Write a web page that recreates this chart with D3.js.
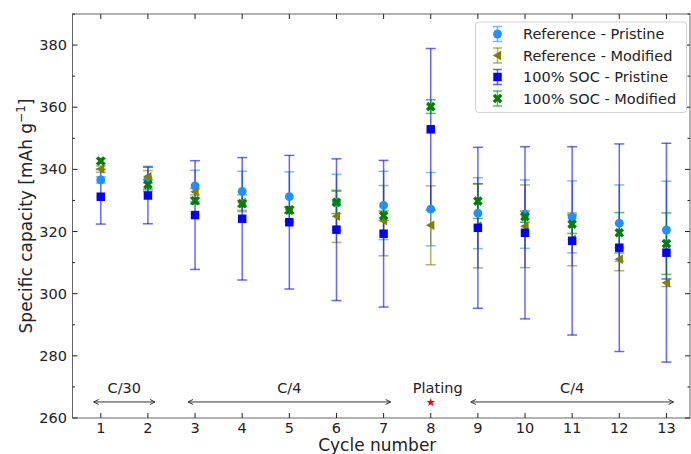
<!DOCTYPE html>
<html>
<head>
<meta charset="utf-8">
<script src="https://cdn.jsdelivr.net/npm/d3@7"></script>
<style>
  body { margin: 0; background: white; }
  text { font-family: "DejaVu Sans", sans-serif; fill: #222; }
</style>
</head>
<body>
<div id="chart"></div>
<script>

var cycles = [1, 2, 3, 4, 5, 6, 7, 8, 9, 10, 11, 12, 13];

// values (mAh/g), +- error
var refPristine       = [336.6, 337.0, 334.7, 332.9, 331.2, 329.4, 328.4, 327.2, 325.9, 325.6, 324.7, 322.7, 320.5];
var refPristineErr    = [1.0, 4.0, 5.0, 6.5, 8.0, 9.0, 11.0, 11.8, 11.4, 11.0, 11.6, 12.3, 15.7];
var refModified       = [340.1, 337.6, 332.8, 329.3, 327.0, 324.9, 323.5, 322.0, 321.8, 321.7, 317.5, 311.1, 303.5];
var refModifiedErr    = [1.0, 2.0, 1.0, 2.5, 1.0, 8.4, 11.3, 12.7, 13.5, 13.3, 8.5, 3.7, 1.2];
var socPristine       = [331.2, 331.6, 325.3, 324.1, 323.0, 320.6, 319.3, 352.9, 321.2, 319.6, 317.0, 314.8, 313.2];
var socPristineErr    = [8.8, 9.1, 17.5, 19.7, 21.5, 22.8, 23.6, 26.0, 25.9, 27.7, 30.3, 33.4, 35.2];
var socModified       = [342.7, 335.1, 329.9, 329.0, 326.9, 329.4, 325.1, 360.2, 329.8, 324.8, 322.4, 319.6, 316.1];
var socModifiedErr    = [0.8, 1.5, 1.0, 1.0, 1.0, 3.6, 1.5, 2.2, 5.6, 1.8, 3.0, 6.5, 9.9];

var seriesNames  = ["Reference - Pristine", "Reference - Modified", "100% SOC - Pristine", "100% SOC - Modified"];
var seriesColors = ["#1e90ff", "#808000", "#0000ff", "#008000"];
var seriesShapes = ["circle", "triangle", "square", "x"];

var yTicks = [260, 280, 300, 320, 340, 360, 380];
var yMinorTicks = [270, 290, 310, 330, 350, 370, 390];

// rate annotations along the bottom
var phaseLabels = ["C/30", "C/4", "C/4"];
var phaseStart  = [0.85, 2.85, 8.85];
var phaseEnd    = [2.15, 7.15, 13.15];
var platingCycle = 8;
var platingMark  = 265;

var width = 691,
    height = 454,
    mLeft = 72.5,
    mRight = 690,
    mTop = 14,
    mBottom = 418;

var svg = d3.select("#chart").append("svg")
    .attr("width", width)
    .attr("height", height);

var x = d3.scaleLinear()
    .domain([0.4, 13.5])
    .range([mLeft, mRight]);

var y = d3.scaleLinear()
    .domain([260, 390])
    .range([mBottom, mTop]);

var series = [
    {values: refPristine, err: refPristineErr},
    {values: refModified, err: refModifiedErr},
    {values: socPristine, err: socPristineErr},
    {values: socModified, err: socModifiedErr}
];

function markerPath(shape) {
    if (shape == "circle") return d3.symbol().type(d3.symbolCircle).size(62)();
    if (shape == "square") return d3.symbol().type(d3.symbolSquare).size(72)();
    if (shape == "x") return d3.symbol().type(d3.symbolCross).size(58)();
    // triangle pointing left
    return "M-4.8,0L3.6,-4.8L3.6,4.8Z";
}

function drawMarker(g, shape, color, cx, cy) {
    g.append("path")
        .attr("d", markerPath(shape))
        .attr("fill", color)
        .attr("transform", "translate(" + cx + "," + cy + ")" + (shape == "x" ? " rotate(45)" : ""));
}

// error bars first (they sit under all markers)
var bars = svg.append("g");
series.forEach(function(s, k) {
    cycles.forEach(function(c, i) {
        var cx = x(c),
            y0 = y(s.values[i] - s.err[i]),
            y1 = y(s.values[i] + s.err[i]);
        var g = bars.append("g")
            .attr("stroke", seriesColors[k])
            .attr("stroke-opacity", 0.6)
            .attr("stroke-width", 1.5);
        g.append("line").attr("x1", cx).attr("x2", cx).attr("y1", y0).attr("y2", y1);
        g.append("line").attr("x1", cx - 5).attr("x2", cx + 5).attr("y1", y0).attr("y2", y0);
        g.append("line").attr("x1", cx - 5).attr("x2", cx + 5).attr("y1", y1).attr("y2", y1);
    });
});

var marks = svg.append("g");
series.forEach(function(s, k) {
    cycles.forEach(function(c, i) {
        drawMarker(marks, seriesShapes[k], seriesColors[k], x(c), y(s.values[i]));
    });
});

// frame + inward ticks
svg.append("rect")
    .attr("x", mLeft).attr("y", mTop)
    .attr("width", mRight - mLeft).attr("height", mBottom - mTop)
    .attr("fill", "none")
    .attr("stroke", "#666")
    .attr("stroke-width", 1);

var ticks = svg.append("g").attr("stroke", "#222").attr("stroke-width", 1);
cycles.forEach(function(c) {
    ticks.append("line").attr("x1", x(c)).attr("x2", x(c)).attr("y1", mBottom).attr("y2", mBottom - 5);
    ticks.append("line").attr("x1", x(c)).attr("x2", x(c)).attr("y1", mTop).attr("y2", mTop + 5);
});
yTicks.forEach(function(t) {
    ticks.append("line").attr("x1", mLeft).attr("x2", mLeft + 5).attr("y1", y(t)).attr("y2", y(t));
    ticks.append("line").attr("x1", mRight).attr("x2", mRight - 5).attr("y1", y(t)).attr("y2", y(t));
});
yMinorTicks.forEach(function(t) {
    ticks.append("line").attr("x1", mLeft).attr("x2", mLeft + 2.5).attr("y1", y(t)).attr("y2", y(t));
    ticks.append("line").attr("x1", mRight).attr("x2", mRight - 2.5).attr("y1", y(t)).attr("y2", y(t));
});

svg.selectAll(".xlab").data(cycles)
    .enter().append("text")
    .attr("x", function(d) { return x(d); })
    .attr("y", 433)
    .attr("text-anchor", "middle")
    .attr("font-size", "14.5px")
    .text(function(d) { return d; });

svg.selectAll(".ylab").data(yTicks)
    .enter().append("text")
    .attr("x", 67)
    .attr("y", function(d) { return y(d) + 5; })
    .attr("text-anchor", "end")
    .attr("font-size", "14.5px")
    .text(function(d) { return d; });

svg.append("text")
    .attr("x", (mLeft + mRight) / 2 - 4)
    .attr("y", 451)
    .attr("text-anchor", "middle")
    .attr("font-size", "17px")
    .text("Cycle number");

var ylabel = svg.append("text")
    .attr("transform", "translate(32," + ((mTop + mBottom) / 2) + ") rotate(-90)")
    .attr("text-anchor", "middle")
    .attr("font-size", "17px");
ylabel.append("tspan").text("Specific capacity [mAh g");
ylabel.append("tspan").attr("font-size", "12px").attr("dy", -7).text("\u22121");
ylabel.append("tspan").attr("dy", 7).text("]");

// rate arrows
var ann = svg.append("g");
phaseLabels.forEach(function(lab, i) {
    var x0 = x(phaseStart[i]), x1 = x(phaseEnd[i]), ya = y(platingMark) - 0.5;
    ann.append("line").attr("x1", x0).attr("x2", x1).attr("y1", ya).attr("y2", ya)
        .attr("stroke", "#333").attr("stroke-width", 1);
    ann.append("path").attr("d", "M" + (x0 + 5) + "," + (ya - 2.5) + "L" + x0 + "," + ya + "L" + (x0 + 5) + "," + (ya + 2.5))
        .attr("fill", "none").attr("stroke", "#333").attr("stroke-width", 1);
    ann.append("path").attr("d", "M" + (x1 - 5) + "," + (ya - 2.5) + "L" + x1 + "," + ya + "L" + (x1 - 5) + "," + (ya + 2.5))
        .attr("fill", "none").attr("stroke", "#333").attr("stroke-width", 1);
    ann.append("text")
        .attr("x", (x0 + x1) / 2)
        .attr("y", 393)
        .attr("text-anchor", "middle")
        .attr("font-size", "14.5px")
        .text(lab);
});
ann.append("text")
    .attr("x", x(platingCycle) + 7)
    .attr("y", 393)
    .attr("text-anchor", "middle")
    .attr("font-size", "14.5px")
    .text("Plating");
ann.append("path")
    .attr("d", d3.symbol().type(d3.symbolStar).size(22)())
    .attr("fill", "red")
    .attr("transform", "translate(" + x(platingCycle) + "," + y(platingMark) + ")");

// legend
var lg = svg.append("g");
lg.append("rect")
    .attr("x", 475.5).attr("y", 22)
    .attr("width", 211).attr("height", 90.5)
    .attr("rx", 3)
    .attr("fill", "white").attr("fill-opacity", 0.85)
    .attr("stroke", "#d0d0d0");
seriesNames.forEach(function(name, k) {
    var ly = 34 + k * 21.5, lx = 497.5;
    var g = lg.append("g")
        .attr("stroke", seriesColors[k])
        .attr("stroke-opacity", 0.6)
        .attr("stroke-width", 1.5);
    g.append("line").attr("x1", lx).attr("x2", lx).attr("y1", ly - 7.5).attr("y2", ly + 7.5);
    g.append("line").attr("x1", lx - 4.5).attr("x2", lx + 4.5).attr("y1", ly - 7.5).attr("y2", ly - 7.5);
    g.append("line").attr("x1", lx - 4.5).attr("x2", lx + 4.5).attr("y1", ly + 7.5).attr("y2", ly + 7.5);
    drawMarker(lg, seriesShapes[k], seriesColors[k], lx, ly);
    lg.append("text")
        .attr("x", 523)
        .attr("y", ly + 5)
        .attr("font-size", "14.5px")
        .text(name);
});

</script>
</body>
</html>
